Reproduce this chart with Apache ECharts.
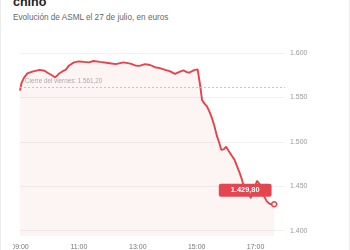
<!DOCTYPE html>
<html>
<head>
<meta charset="utf-8">
<script src="https://cdn.jsdelivr.net/npm/echarts@6/dist/echarts.min.js"></script>
<style>
  html, body { margin: 0; padding: 0; background: #fff; }
  body { width: 350px; height: 250px; position: relative; overflow: hidden; font-family: "Liberation Sans", Arial, sans-serif; }
  #frame { position: absolute; left: 0; top: 0; width: 348px; height: 250px; border-left: 1px solid #ececec; border-right: 1px solid #ececec; }
  #title { position: absolute; left: 13px; top: -5px; font-size: 12.5px; line-height: 15px; font-weight: bold; color: #222; white-space: nowrap; }
  #subtitle { position: absolute; left: 13px; top: 13px; font-size: 8.2px; line-height: 10px; color: #666; white-space: nowrap; }
  #chart { position: absolute; left: 13px; top: 0; width: 337px; height: 250px; }
</style>
</head>
<body>
<div id="frame"></div>
<div id="title">chino</div>
<div id="subtitle">Evolución de ASML el 27 de julio, en euros</div>
<div id="chart"></div>
<script>
// ---- data ----
var times = ["09:00","09:03","09:08","09:15","09:25","09:40","09:50","09:57","10:05","10:12",
  "10:20","10:27","10:33","10:40","10:50","11:00","11:10","11:20","11:30","11:43",
  "12:03","12:15","12:31","12:45","12:55","13:03","13:15","13:25","13:35","13:45",
  "13:56","14:05","14:16","14:26","14:33","14:40","14:45","14:52","14:57","15:02",
  "15:07","15:11","15:16","15:21","15:26","15:31","15:36","15:41","15:46","15:50",
  "15:55","16:00","16:05","16:12","16:17","16:22","16:27","16:32","16:36","16:42",
  "16:47","16:50","16:54","16:59","17:03","17:06","17:10","17:14","17:18","17:23",
  "17:28","17:33","17:38"];
var prices = [1557.6,1566,1572,1577,1579,1581,1580,1577.5,1575,1572.5,
  1577,1579.5,1581,1586,1589.5,1590.5,1590,1589.5,1591,1590,
  1588.5,1587.5,1589.5,1588,1586,1585.5,1587.5,1586.5,1584,1583,
  1581,1579.5,1576.5,1579,1580.5,1578.5,1578,1580,1581,1581.6,
  1564,1547,1543,1540,1534,1527,1518,1507,1499,1491,
  1491.5,1494.5,1490,1484,1480,1473,1466,1458,1450,1446,
  1444,1436.5,1443,1450,1456,1457.5,1451,1443,1438,1433,
  1430.5,1429.5,1429.8];
var prevClose = 1561.2;
var prevCloseText = "Cierre del viernes: ";
var yTicks = [1400, 1450, 1500, 1550, 1600];
var xTickLabels = ["09:00", "11:00", "13:00", "15:00", "17:00"];

function toHours(s) { var p = s.split(":"); return +p[0] + (+p[1]) / 60; }
function fmtEs(v, dec) {
  var s = v.toFixed(dec);
  var parts = s.split(".");
  var intPart = parts[0].replace(/\B(?=(\d{3})+(?!\d))/g, ".");
  return dec > 0 ? intPart + "," + parts[1] : intPart;
}
var xTickValues = xTickLabels.map(toHours);
var seriesData = times.map(function (t, i) { return [toHours(t), prices[i]]; });
var last = seriesData[seriesData.length - 1];

var RED = "#e6434c";
var chart = echarts.init(document.getElementById("chart"), null, { renderer: "canvas" });
chart.setOption({
  animation: false,
  grid: { left: 7, right: 65, top: 53, bottom: 14, containLabel: false, outerBoundsMode: "none" },
  xAxis: {
    type: "value", min: 9, max: 18,
    axisLine: { show: false },
    axisTick: { show: false, customValues: xTickValues },
    splitLine: { show: false },
    axisLabel: {
      color: "#777", fontSize: 7, margin: 8, customValues: xTickValues,
      fontFamily: "Liberation Sans, Arial, sans-serif",
      formatter: function (v) {
        var i = xTickValues.indexOf(v);
        return i >= 0 ? xTickLabels[i] : "";
      }
    }
  },
  yAxis: {
    type: "value", position: "right", min: 1394, max: 1600,
    axisLine: { show: false },
    axisTick: { show: false, customValues: yTicks },
    splitLine: { show: true, lineStyle: { color: "#f0f0f0", width: 1 } },
    axisLabel: {
      color: "#9a9a9a", fontSize: 7, margin: 5, customValues: yTicks,
      fontFamily: "Liberation Sans, Arial, sans-serif",
      formatter: function (v) { return fmtEs(v, 0); }
    }
  },
  series: [
    {
      type: "line", data: seriesData, showSymbol: false, symbol: "none",
      lineStyle: { color: RED, width: 1.9 },
      areaStyle: { color: "rgba(229,72,77,0.09)", origin: "start" },
      markLine: {
        silent: true, symbol: "none",
        lineStyle: { color: "#c4c4c4", type: [2, 2], width: 1 },
        label: {
          position: "insideStartTop", color: "#aaa", fontSize: 6.3, distance: [5, 3],
          fontFamily: "Liberation Sans, Arial, sans-serif",
          formatter: function () { return prevCloseText + fmtEs(prevClose, 2); }
        },
        data: [{ yAxis: prevClose }]
      },
      markPoint: {
        silent: true, symbol: "circle", symbolSize: 5,
        itemStyle: { color: "#fff", borderColor: RED, borderWidth: 1.5 },
        label: {
          show: true, position: "inside", offset: [-29, -14],
          formatter: function () { return fmtEs(last[1], 2); },
          color: "#fff", fontWeight: "bold", fontSize: 7.4, lineHeight: 9,
          fontFamily: "Liberation Sans, Arial, sans-serif",
          backgroundColor: "#e5454e", borderRadius: 2, padding: [2, 12, 2, 12]
        },
        data: [{ coord: last, value: last[1] }]
      }
    }
  ]
});
</script>
</body>
</html>
